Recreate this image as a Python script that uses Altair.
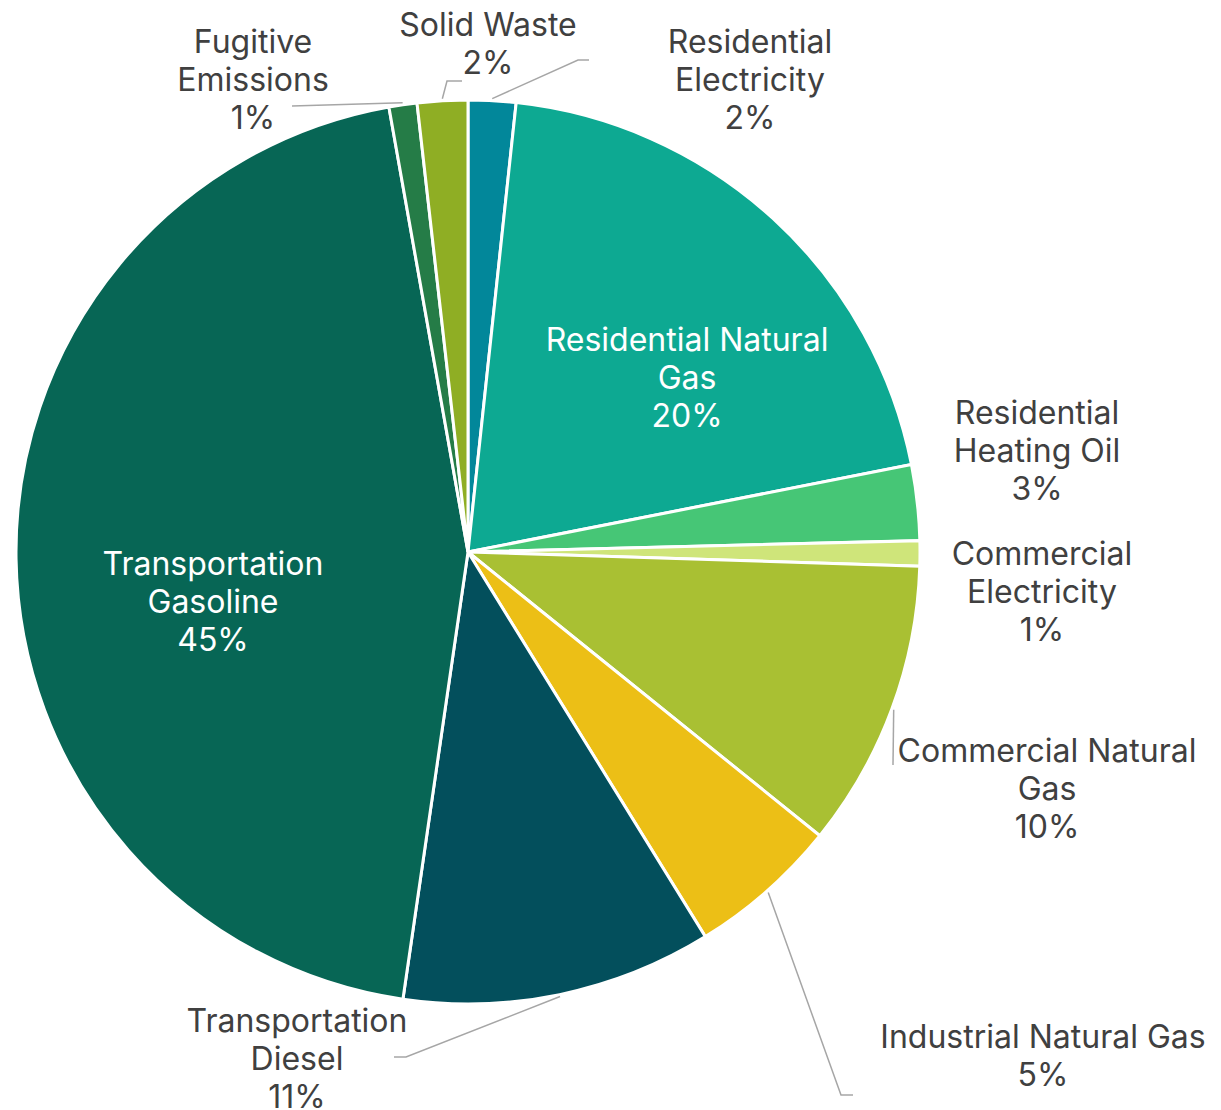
import math
import altair as alt
import pandas as pd

# ---- data ----
categories = [
    "Residential Electricity", "Residential Natural Gas", "Residential Heating Oil",
    "Commercial Electricity", "Commercial Natural Gas", "Industrial Natural Gas",
    "Transportation Diesel", "Transportation Gasoline", "Fugitive Emissions", "Solid Waste",
]
values = [1.7, 20.2, 2.7, 0.9, 10.3, 5.4, 11.1, 44.9, 1.0, 1.8]
pct_labels = ["2%", "20%", "3%", "1%", "10%", "5%", "11%", "45%", "1%", "2%"]
label_lines = [
    ["Residential", "Electricity"], ["Residential Natural", "Gas"], ["Residential", "Heating Oil"],
    ["Commercial", "Electricity"], ["Commercial Natural", "Gas"], ["Industrial Natural Gas"],
    ["Transportation", "Diesel"], ["Transportation", "Gasoline"], ["Fugitive", "Emissions"], ["Solid Waste"],
]
colors = ["#02879A", "#0DA992", "#46C676", "#CFE57A", "#A9C033", "#ECBF16",
          "#034F5C", "#076655", "#257C47", "#8FAE24"]

# ---- layout (styling only) ----
W, H = 1221, 1110
CX, CY, R = 468, 552, 452
FONT = "Inter"
FS = 32
LH = 38
TEXT_COLOR = "#404040"
label_pos = {  # x centre, first baseline, colour
    "Residential Electricity": (750, 53, TEXT_COLOR),
    "Residential Natural Gas": (687, 351, "white"),
    "Residential Heating Oil": (1037, 424, TEXT_COLOR),
    "Commercial Electricity": (1042, 565, TEXT_COLOR),
    "Commercial Natural Gas": (1047, 762, TEXT_COLOR),
    "Industrial Natural Gas": (1043, 1048, TEXT_COLOR),
    "Transportation Diesel": (297, 1032, TEXT_COLOR),
    "Transportation Gasoline": (213, 575, "white"),
    "Fugitive Emissions": (253, 53, TEXT_COLOR),
    "Solid Waste": (488, 36, TEXT_COLOR),
}
leader_tail = {
    "Residential Electricity": [(578, 60), (589, 60)],
    "Commercial Natural Gas": [(893, 765)],
    "Industrial Natural Gas": [(841, 1095), (853, 1095)],
    "Transportation Diesel": [(406, 1057), (394, 1057)],
    "Fugitive Emissions": [(292, 106)],
    "Solid Waste": [(447, 81), (462, 81)],
}

pie_df = pd.DataFrame({"category": categories, "value": values, "idx": range(len(categories))})

# text rows
trows = []
for cat, lines, pct in zip(categories, label_lines, pct_labels):
    x0, y0, col = label_pos[cat]
    for i, t in enumerate(lines + [pct]):
        trows.append({"category": cat, "text": t, "px": x0, "py": y0 + i * LH, "tc": col})
text_df = pd.DataFrame(trows)

# leader lines: start at slice mid-angle on the rim (derived from values)
total = sum(values)
lrows = []
cum = 0.0
for cat, v in zip(categories, values):
    mid = (cum + v / 2) / total * 2 * math.pi
    cum += v
    if cat in leader_tail:
        sx = CX + (R + 2) * math.sin(mid)
        sy = CY - (R + 2) * math.cos(mid)
        pts = [(sx, sy)] + leader_tail[cat]
        for j, (px, py) in enumerate(pts):
            lrows.append({"category": cat, "seq": j, "px": px, "py": py})
lead_df = pd.DataFrame(lrows)

pie = alt.Chart(pie_df).mark_arc(outerRadius=R, stroke="white", strokeWidth=3).encode(
    theta=alt.Theta("value:Q", stack=True, scale=alt.Scale(range=[0, 2 * math.pi])),
    order=alt.Order("idx:Q"),
    color=alt.Color("category:N", scale=alt.Scale(domain=categories, range=colors), legend=None),
    x=alt.value(CX),
    y=alt.value(CY),
)

leaders = alt.Chart(lead_df).mark_line(color="#A6A6A6", strokeWidth=1.5).encode(
    x=alt.X("px:Q", scale=None, axis=None),
    y=alt.Y("py:Q", scale=None, axis=None),
    detail="category:N",
    order=alt.Order("seq:Q"),
)

labels = alt.Chart(text_df).mark_text(font=FONT, fontSize=FS, fontWeight=400, align="center", baseline="alphabetic").encode(
    x=alt.X("px:Q", scale=None, axis=None),
    y=alt.Y("py:Q", scale=None, axis=None),
    text="text:N",
    color=alt.Color("tc:N", scale=None, legend=None),
)

chart = alt.layer(pie, leaders, labels).properties(
    width=W, height=H, autosize="none", padding=0
).configure_view(stroke=None)

chart.save("out.html", embed_options={"renderer": "svg", "actions": False})
